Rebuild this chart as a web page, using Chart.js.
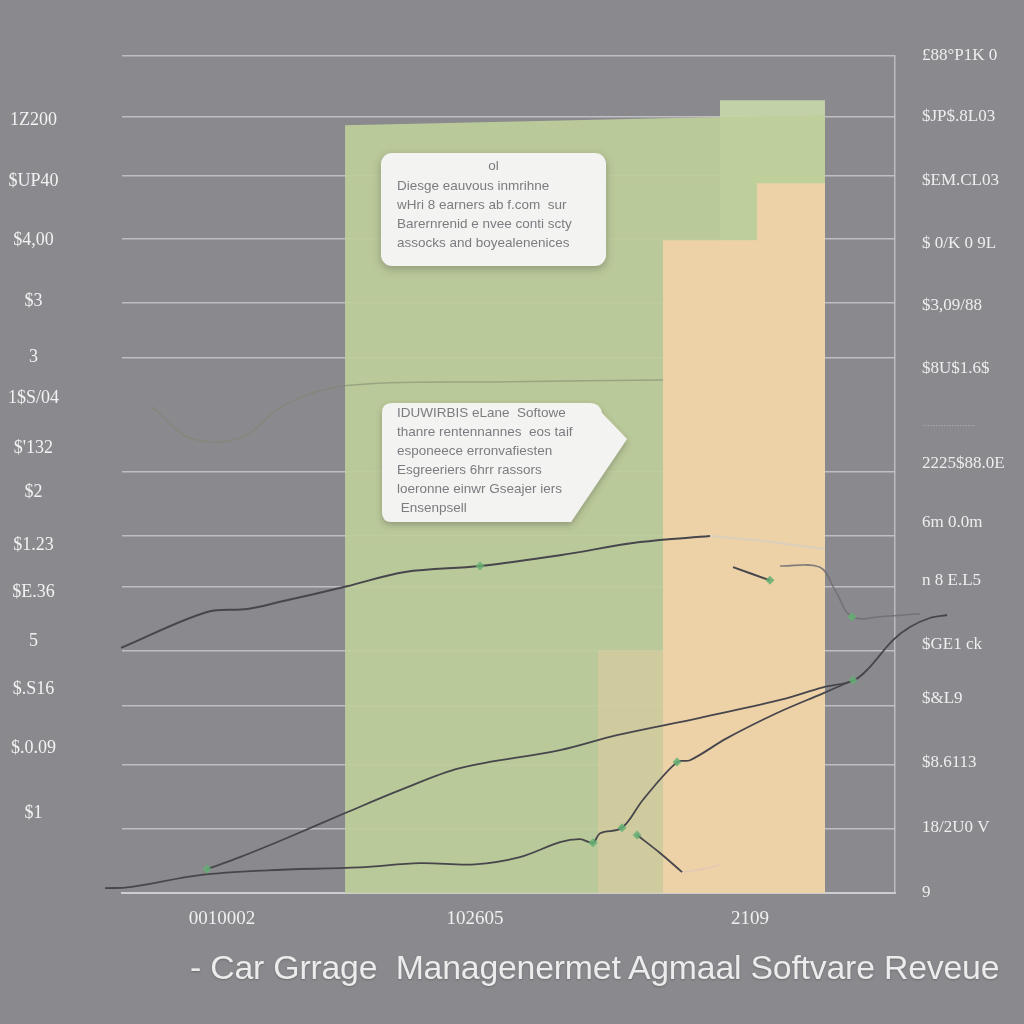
<!DOCTYPE html>
<html>
<head>
<meta charset="utf-8">
<script src="https://cdn.jsdelivr.net/npm/chart.js@4/dist/chart.umd.min.js"></script>
<style>
html,body{margin:0;padding:0;background:#8a898e;}
#wrap{position:relative;width:1024px;height:1024px;overflow:hidden;background:#8a898e;}
#c{position:absolute;left:0;top:0;}
.note{position:absolute;font-family:"Liberation Sans Narrow","Liberation Sans",Arial,sans-serif;color:#7c7c80;font-size:13.5px;line-height:19px;white-space:pre;}
#box1{left:381px;top:153px;width:225px;height:113px;background:#f3f3f2;border-radius:11px;box-shadow:0 3px 8px rgba(60,60,60,0.35);}
#box1 .t{position:absolute;left:16px;top:23px;}
#box1 .h{position:absolute;left:0;width:225px;top:3px;text-align:center;}
#box2svg{position:absolute;left:370px;top:395px;}
#box2 {left:397px;top:403px;}
#title{position:absolute;left:190px;top:948px;font-family:"Liberation Sans",Arial,sans-serif;font-size:33.8px;color:#ececec;white-space:pre;letter-spacing:-0.2px;text-shadow:0 1px 2px rgba(80,80,80,0.5);}
</style>
</head>
<body>
<div id="wrap">
<canvas id="c" width="1024" height="1024"></canvas>
<div class="note" id="box1"><div class="h">ol</div><div class="t">Diesge eauvous inmrihne
wHri 8 earners ab f.com  sur
Barernrenid e nvee conti scty
assocks and boyealenenices</div></div>
<svg id="box2svg" width="280" height="145">
<defs><filter id="sh" x="-10%" y="-10%" width="130%" height="130%"><feDropShadow dx="0" dy="3" stdDeviation="3" flood-color="#404040" flood-opacity="0.35"/></filter></defs>
<path d="M22,8 H220 Q230,8 232,18 L257,44 L201,127 H22 Q12,127 12,117 V18 Q12,8 22,8 Z" fill="#f3f3f2" filter="url(#sh)"/>
</svg>
<div class="note" id="box2">IDUWIRBIS eLane  Softowe
thanre rentennannes  eos taif
esponeece erronvafiesten
Esgreeriers 6hrr rassors
loeronne einwr Gseajer iers
 Ensenpsell</div>
<div id="title">- Car Grrage  Managenermet Agmaal Softvare Reveue</div>
</div>
<script>
// ---- tick labels ----
const xTickValues = [14.88, 45.73, 79.27];
const xTickLabels = ["0010002", "102605", "2109"];
const leftTickValues = [12.93, 11.9, 10.92, 9.9, 8.96, 8.28, 7.44, 6.71, 5.82, 5.03, 4.21, 3.41, 2.42, 1.34];
const leftTickLabels = ["1Z200", "$UP40", "$4,00", "$3", "3", "1$S/04", "$'132", "$2", "$1.23", "$E.36", "5", "$.S16", "$.0.09", "$1"];
const rightTickValues = [0, 1.09, 2.19, 3.26, 4.15, 5.23, 6.2, 7.19, 7.81, 8.78, 9.82, 10.87, 11.91, 12.98, 14];
const rightTickLabels = ["9", "18/2U0 V", "$8.6113", "$&L9", "$GE1 ck", "n 8 E.L5", "6m 0.0m", "2225$88.0E", "····················", "$8U$1.6$", "$3,09/88", "$ 0/K 0 9L", "$EM.CL03", "$JP$.8L03", "£88°P1K 0"];
const gridValues = [1.07, 2.14, 3.13, 4.05, 5.12, 5.97, 7.04, 8.95, 9.87, 10.94, 11.99, 12.99, 14];

// ---- background bands (x, top) ----
const greenBand = [{x: 29.88, y: 12.84}, {x: 75.6, y: 12.98}, {x: 88.41, y: 13.01}];
const greenTab = [{x: 75.6, y: 13.26}, {x: 88.41, y: 13.26}];
const orangeBand = [{x: 68.66, y: 10.92}, {x: 80.12, y: 11.87}, {x: 88.41, y: 11.87}];
const peachBlend = [{x: 60.73, y: 4.06}, {x: 68.66, y: 4.06}];

// ---- revenue lines ----
const lineA = [{x: 2.56, y: 4.10}, {x: 13.05, y: 4.70}, {x: 17.93, y: 4.75}, {x: 21.95, y: 4.87}, {x: 30.12, y: 5.13}, {x: 37.2, y: 5.37}, {x: 46.34, y: 5.47}, {x: 56.1, y: 5.65}, {x: 65.85, y: 5.87}, {x: 74.39, y: 5.97}];
const lineAFaint = [{x: 74.39, y: 5.97}, {x: 80.0, y: 5.9}, {x: 88.41, y: 5.75}];
const lineA2 = [{x: 77.2, y: 5.45}, {x: 81.7, y: 5.23}];
const lineA3 = [{x: 82.93, y: 5.47}, {x: 87.8, y: 5.45}, {x: 89.63, y: 5.07}, {x: 91.7, y: 4.62}, {x: 95.73, y: 4.63}, {x: 100, y: 4.67}];
const lineB = [{x: 13.05, y: 0.40}, {x: 17.07, y: 0.60}, {x: 22.8, y: 0.92}, {x: 30.12, y: 1.35}, {x: 36.59, y: 1.72}, {x: 43.9, y: 2.09}, {x: 56.1, y: 2.39}, {x: 63.05, y: 2.64}, {x: 73.17, y: 2.93}, {x: 82.93, y: 3.23}, {x: 88.17, y: 3.44}, {x: 91.83, y: 3.55}, {x: 93.54, y: 3.73}, {x: 96.7, y: 4.23}, {x: 98.78, y: 4.45}, {x: 101.2, y: 4.60}, {x: 103.3, y: 4.65}];
const lineC = [{x: 0.61, y: 0.08}, {x: 3.66, y: 0.10}, {x: 12.2, y: 0.30}, {x: 20.37, y: 0.38}, {x: 31.7, y: 0.43}, {x: 39.0, y: 0.50}, {x: 45.73, y: 0.48}, {x: 51.2, y: 0.60}, {x: 56.1, y: 0.85}, {x: 58.54, y: 0.90}, {x: 60.12, y: 0.84}, {x: 60.98, y: 1.00}, {x: 63.66, y: 1.09}, {x: 66.22, y: 1.56}, {x: 70.37, y: 2.19}, {x: 71.95, y: 2.22}, {x: 76.46, y: 2.59}, {x: 82.56, y: 3.01}, {x: 88.17, y: 3.34}, {x: 91.83, y: 3.56}];
const lineD = [{x: 65.49, y: 0.97}, {x: 68.29, y: 0.67}, {x: 70.98, y: 0.35}];
const lineDFaint = [{x: 70.98, y: 0.35}, {x: 73.5, y: 0.40}, {x: 75.61, y: 0.47}];
const faintLine = [{x: 6.34, y: 8.13}, {x: 10.98, y: 7.61}, {x: 17.07, y: 7.61}, {x: 22.8, y: 8.19}, {x: 30.12, y: 8.49}, {x: 50, y: 8.55}, {x: 68.66, y: 8.58}];
const markers = [{x: 46.34, y: 5.47}, {x: 81.7, y: 5.23}, {x: 91.7, y: 4.62}, {x: 13.05, y: 0.40}, {x: 103.3, y: 4.65}, {x: 60.12, y: 0.84}, {x: 63.66, y: 1.09}, {x: 70.37, y: 2.19}, {x: 91.83, y: 3.56}, {x: 65.49, y: 0.97}, {x: 100.4, y: 3.34}];

const X_MIN = 2.68, X_MAX = 96.95;

function band(data, color, order, stepped) {
  return {data, type: 'line', fill: 'origin', backgroundColor: color, borderWidth: 0, pointRadius: 0, tension: 0, stepped: stepped || false, order, clip: false};
}
function ln(data, color, width, order) {
  return {data, type: 'line', fill: false, borderColor: color, borderWidth: width, pointRadius: 0, tension: 0.35, order, clip: false};
}

new Chart(document.getElementById('c'), {
  type: 'line',
  data: {
    datasets: [
      band(greenTab, 'rgba(200,215,170,0.92)', 20),
      band(greenBand, 'rgba(190,206,154,0.92)', 19),
      band(orangeBand, 'rgba(241,210,168,0.92)', 18, 'before'),
      band(peachBlend, 'rgba(235,207,164,0.45)', 17),
      ln(faintLine, 'rgba(125,135,110,0.55)', 1.5, 10),
      ln(lineAFaint, 'rgba(205,205,200,0.6)', 2, 9),
      ln(lineDFaint, 'rgba(225,200,185,0.7)', 2, 9),
      ln(lineA3, 'rgba(110,110,115,0.85)', 1.6, 8),
      ln(lineA, '#46464c', 2, 5),
      ln(lineA2, '#46464c', 2, 5),
      ln(lineB, '#46464c', 1.8, 5),
      ln(lineC, '#46464c', 1.8, 5),
      ln(lineD, '#46464c', 1.8, 5),
      {data: markers, type: 'scatter', pointStyle: 'rectRot', pointRadius: 4.5, backgroundColor: 'rgba(100,175,115,0.85)', borderWidth: 0, order: 1, clip: false}
    ]
  },
  options: {
    responsive: false,
    animation: false,
    layout: {padding: {top: 56, bottom: 91, left: 0, right: 0}},
    plugins: {legend: {display: false}, tooltip: {enabled: false}, title: {display: false}},
    scales: {
      x: {
        type: 'linear', bounds: 'data',
        afterDataLimits: s => { s.min = X_MIN; s.max = X_MAX; },
        afterBuildTicks: s => { s.ticks = xTickValues.map(v => ({value: v})); },
        ticks: {callback: (v, i) => xTickLabels[i], color: '#efefef', font: {family: 'Liberation Serif', size: 19}, padding: 7, maxRotation: 0, autoSkip: false},
        grid: {display: false},
        border: {display: true, color: '#cdcdd0', width: 2},
        afterFit: s => { s.height = 40; }
      },
      y: {
        position: 'left', min: 0, max: 14,
        afterBuildTicks: s => { s.ticks = leftTickValues.map(v => ({value: v})); },
        ticks: {callback: (v, i) => leftTickLabels[i], crossAlign: 'center', padding: 55, color: '#f2f2f2', font: {family: 'Liberation Serif', size: 18}, autoSkip: false},
        grid: {display: false},
        border: {display: false},
        afterFit: s => { s.width = 122; s.paddingTop = 0; s.paddingBottom = 0; }
      },
      yGrid: {
        position: 'right', min: 0, max: 14,
        afterBuildTicks: s => { s.ticks = gridValues.map(v => ({value: v})); },
        ticks: {display: false},
        grid: {color: 'rgba(200,200,204,0.85)', lineWidth: 1.5, drawTicks: false},
        border: {display: false},
        afterFit: s => { s.width = 0; s.paddingTop = 0; s.paddingBottom = 0; }
      },
      yR: {
        position: 'right', min: 0, max: 14,
        afterBuildTicks: s => { s.ticks = rightTickValues.map(v => ({value: v})); },
        ticks: {
          callback: (v, i) => rightTickLabels[i], crossAlign: 'near', padding: 19, autoSkip: false,
          color: ctx => ctx.index === 8 ? 'rgba(230,230,230,0.6)' : '#eeeeee',
          font: ctx => ctx.index === 8 ? {family: 'Liberation Serif', size: 8} : {family: 'Liberation Serif', size: 17}
        },
        grid: {display: false},
        border: {display: true, color: 'rgba(200,200,204,0.8)', width: 1.5},
        afterFit: s => { s.width = 129; s.paddingTop = 0; s.paddingBottom = 0; }
      }
    }
  }
});
</script>
</body>
</html>
